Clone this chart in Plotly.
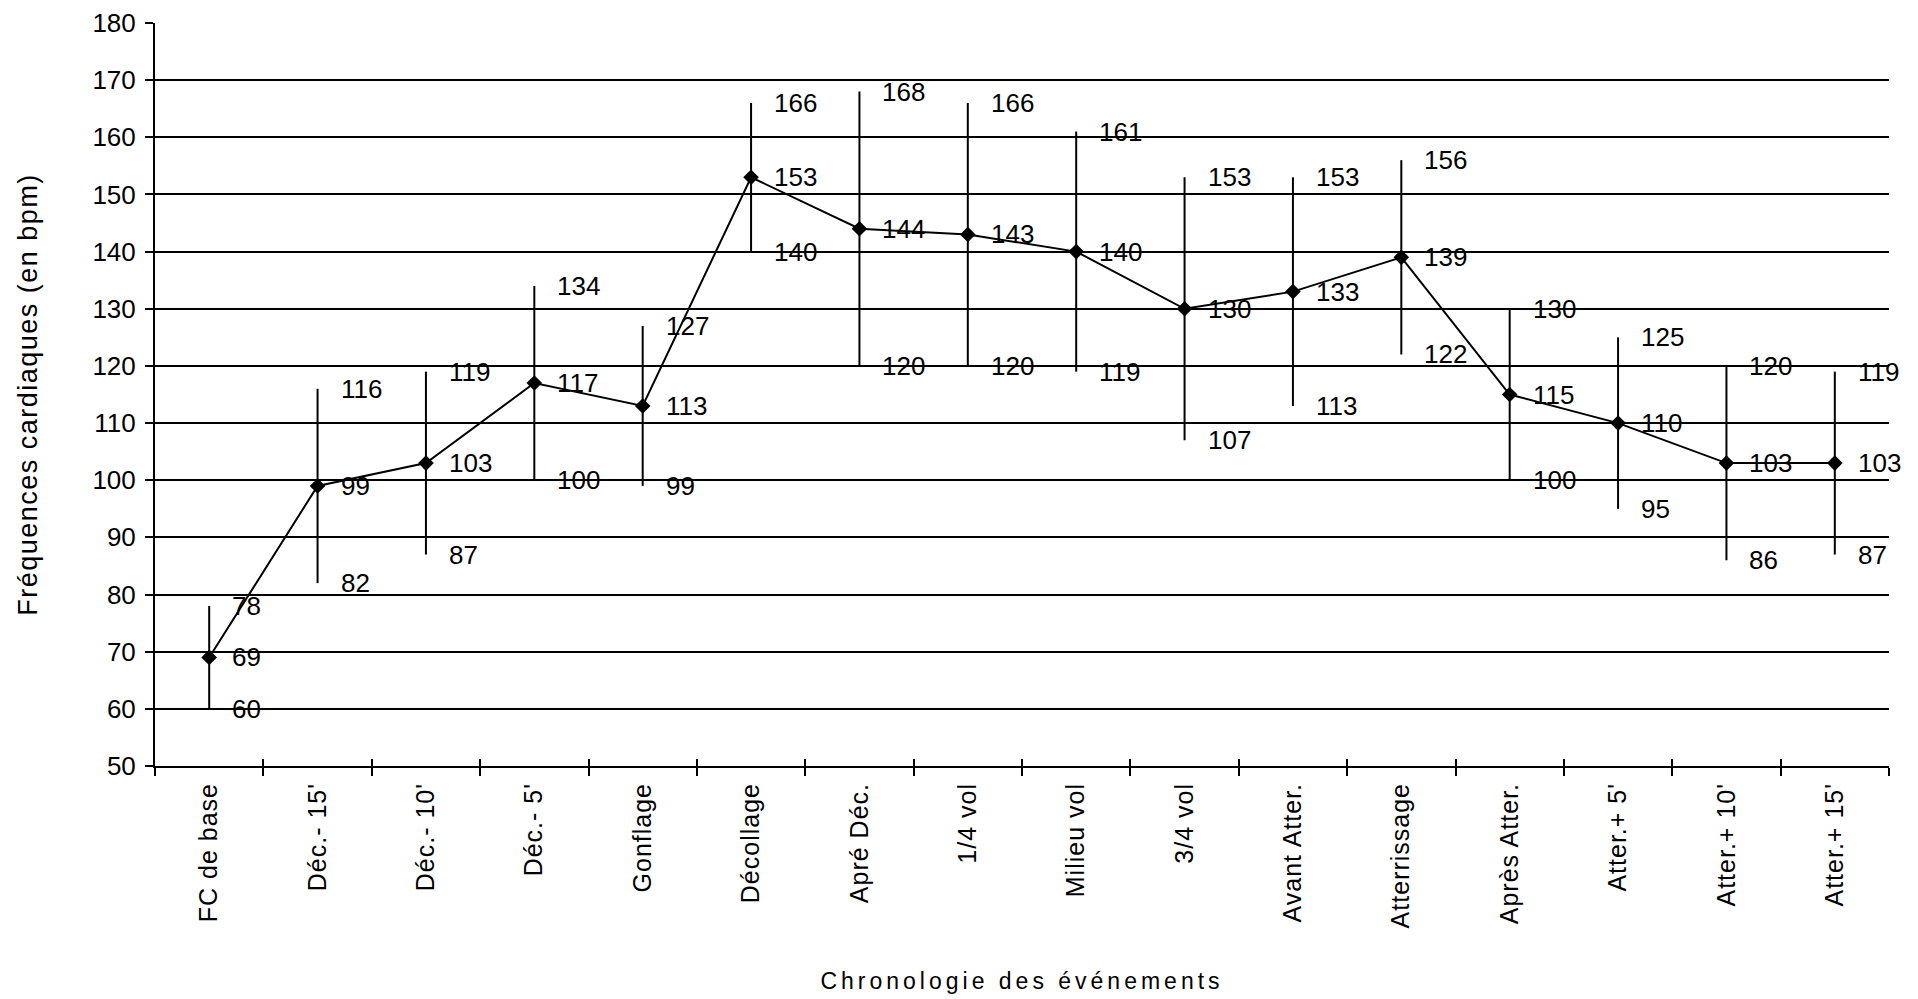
import plotly.graph_objects as go

categories = ["FC de base", "Déc.- 15'", "Déc.- 10'", "Déc.- 5'", "Gonflage", "Décollage",
              "Apré Déc.", "1/4 vol", "Milieu vol", "3/4 vol", "Avant Atter.", "Atterrissage",
              "Après Atter.", "Atter.+ 5'", "Atter.+ 10'", "Atter.+ 15'"]
mean_hr = [69, 99, 103, 117, 113, 153, 144, 143, 140, 130, 133, 139, 115, 110, 103, 103]
high_hr = [78, 116, 119, 134, 127, 166, 168, 166, 161, 153, 153, 156, 130, 125, 120, 119]
low_hr = [60, 82, 87, 100, 99, 140, 120, 120, 119, 107, 113, 122, 100, 95, 86, 87]
y_ticks = list(range(50, 181, 10))

FONT = "Liberation Sans, Arial, sans-serif"
BLACK = "#000000"

fig = go.Figure()

fig.add_trace(go.Scatter(
    x=categories, y=mean_hr, mode="lines+markers",
    line=dict(color=BLACK, width=2),
    marker=dict(symbol="diamond", size=12, color=BLACK),
    error_y=dict(type="data", symmetric=False,
                 array=[h - m for h, m in zip(high_hr, mean_hr)],
                 arrayminus=[m - l for m, l in zip(mean_hr, low_hr)],
                 width=0, thickness=2, color=BLACK),
    showlegend=False, hoverinfo="x+y",
))

# invisible trace carrying the secondary x axis (inside half of crossing ticks)
fig.add_trace(go.Scatter(
    x=categories, y=mean_hr, xaxis="x2", mode="markers",
    marker=dict(opacity=0), showlegend=False, hoverinfo="skip",
))

annotations = []
for cat, m, h, l in zip(categories, mean_hr, high_hr, low_hr):
    for v in (m, h, l):
        annotations.append(dict(
            x=cat, y=v, xref="x", yref="y", text=str(v), showarrow=False,
            xanchor="left", yanchor="middle", xshift=21,
            font=dict(family=FONT, size=26, color=BLACK),
        ))

fig.update_layout(
    width=1910, height=991,
    margin=dict(l=147, r=29, t=15, b=233),
    paper_bgcolor="white", plot_bgcolor="white",
    font=dict(family=FONT, size=25, color=BLACK),
    annotations=annotations,
    xaxis=dict(
        type="category", categoryorder="array", categoryarray=categories,
        range=[-0.5, len(categories) - 0.5],
        tickmode="array", tickvals=categories,
        ticktext=['<span style="letter-spacing:1px">%s</span>' % c for c in categories],
        tickson="boundaries", ticks="outside", ticklen=8, tickwidth=2, tickcolor=BLACK,
        tickangle=-90, ticklabelstandoff=5,
        tickfont=dict(family=FONT, size=25, color=BLACK),
        showgrid=False, showline=True, linecolor=BLACK, linewidth=2,
        zeroline=False, automargin=False,
        title=dict(text='<span style="letter-spacing:4px">Chronologie des événements</span>',
                   font=dict(family=FONT, size=23, color=BLACK), standoff=46),
    ),
    xaxis2=dict(
        type="category", categoryorder="array", categoryarray=categories,
        range=[-0.5, len(categories) - 0.5], overlaying="x", anchor="y", side="bottom",
        tickson="boundaries", ticks="inside", ticklen=7, tickwidth=2, tickcolor=BLACK,
        showticklabels=False, showgrid=False, showline=False, zeroline=False,
        automargin=False,
    ),
    yaxis=dict(
        range=[50, 180], tickmode="array", tickvals=y_ticks,
        ticks="outside", ticklen=8, tickwidth=2, tickcolor=BLACK,
        ticklabelstandoff=4,
        tickfont=dict(family=FONT, size=26, color=BLACK),
        showgrid=True, gridcolor=BLACK, gridwidth=2,
        showline=True, linecolor=BLACK, linewidth=2, zeroline=False,
        automargin=False,
        title=dict(text='<span style="letter-spacing:1.5px">Fréquences cardiaques (en bpm)</span>',
                   font=dict(family=FONT, size=27, color=BLACK), standoff=47),
    ),
)

fig.write_html("out.html")
